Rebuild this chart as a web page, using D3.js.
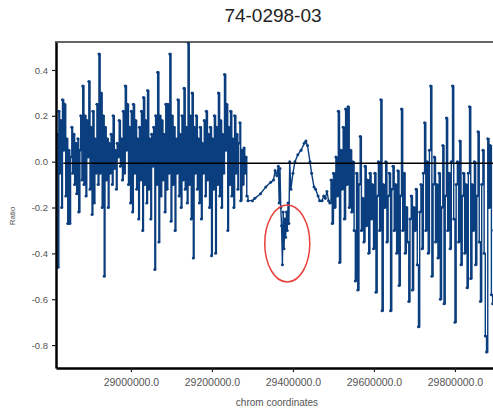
<!DOCTYPE html>
<html>
<head>
<meta charset="utf-8">
<script src="https://cdn.jsdelivr.net/npm/d3@7"></script>
<style>
  html, body { margin: 0; padding: 0; background: #fff; }
  text { font-family: "Liberation Sans", Arial, sans-serif; }
</style>
</head>
<body>
<svg id="chart" width="493" height="410"></svg>
<script>
// ---------------- DATA (positions in kb, ratio values) ----------------
const titleText = "74-0298-03";
const xLabel = "chrom coordinates";
const yLabel = "Ratio";

const xTickValues = [29000000, 29200000, 29400000, 29600000, 29800000];
const xTickLabels = ["29000000.0", "29200000.0", "29400000.0", "29600000.0", "29800000.0"];
const yTickValues = [-0.8, -0.6, -0.4, -0.2, 0.0, 0.2, 0.4];
const yTickLabels = ["-0.8", "-0.6", "-0.4", "-0.2", "0.0", "0.2", "0.4"];

// dense segment 1
const posA = [28818,28820,28822,28824,28827,28829,28831,28834,28836,28839,28841,28844,28846,28849,28851,28854,28856,28859,28861,28864,
28866,28869,28871,28874,28876,28879,28881,28884,28886,28889,28891,28894,28896,28899,28901,28904,28906,28909,28911,28914,
28916,28919,28921,28924,28926,28929,28931,28934,28936,28939,28941,28944,28946,28949,28951,28954,28956,28959,28961,28964,
28966,28969,28971,28974,28976,28979,28981,28984,28986,28989,28991,28994,28996,28999,29001,29004,29006,29009,29011,29014,
29016,29019,29021,29024,29026,29029,29031,29034,29036,29039,29041,29044,29046,29049,29051,29054,29056,29059,29061,29064,
29066,29069,29071,29074,29076,29079,29081,29084,29086,29089,29091,29094,29096,29099,29101,29104,29106,29109,29111,29114,
29116,29119,29121,29124,29126,29129,29131,29134,29136,29139,29141,29144,29146,29149,29151,29154,29156,29159,29161,29164,
29166,29169,29171,29174,29176,29179,29181,29184,29186,29189,29191,29194,29196,29199,29201,29204,29206,29209,29211,29214,
29216,29219,29221,29224,29226,29229,29231,29234,29236,29239,29241,29244,29246,29249,29251,29254,29256,29259,29261,29264,
29266,29269,29271,29274,29276,29279,29281,29284,29286,29289];
const valA = [0.12,-0.46,0.22,-0.05,0.18,-0.20,0.27,0.05,0.25,-0.15,0.10,-0.27,0.05,-0.27,0.02,0.15,-0.05,0.12,-0.10,0.08,
-0.14,0.10,-0.22,0.05,0.20,-0.08,0.33,-0.10,0.20,-0.15,0.18,0.02,0.35,-0.12,0.15,-0.23,0.22,-0.18,0.10,-0.05,
0.25,-0.10,0.47,-0.05,0.30,-0.20,0.20,-0.50,0.15,-0.08,0.10,-0.20,0.08,-0.05,0.12,-0.10,0.20,-0.03,0.05,-0.12,
0.08,0.02,0.18,-0.02,0.10,-0.08,0.22,-0.05,0.33,0.05,0.25,-0.10,0.15,-0.18,0.22,-0.22,0.25,-0.05,0.18,-0.12,
0.10,-0.25,0.15,-0.08,0.22,-0.30,0.28,-0.10,0.18,-0.18,0.31,-0.12,0.10,-0.25,0.12,-0.02,0.15,-0.47,0.20,-0.10,
0.39,-0.35,0.20,-0.15,0.18,-0.08,0.12,-0.22,0.25,-0.12,0.25,-0.05,0.47,-0.26,0.20,-0.10,0.15,-0.30,0.10,-0.05,
0.27,-0.15,0.12,-0.20,0.20,-0.08,0.32,-0.12,0.15,-0.18,0.52,-0.10,0.20,-0.25,0.30,-0.42,0.15,-0.05,0.20,-0.12,
0.10,-0.18,0.15,-0.25,0.08,-0.05,0.18,-0.15,0.22,-0.08,0.12,-0.20,0.15,-0.41,0.10,-0.12,0.20,-0.40,0.15,-0.10,
0.30,-0.15,0.18,-0.20,0.12,-0.05,0.38,0.05,0.25,-0.30,0.15,-0.10,0.22,-0.15,0.10,-0.20,0.20,-0.05,0.12,-0.12,
0.08,0.17,-0.17,0.05,-0.10,0.06,-0.05,0.02,-0.15,-0.17];

// sparse middle segment (incl. circled dip)
const posB = [29300,29306,29320,29333,29345,29352,29356,29360,29364,29366,29368,29370,29372,29374,29376,29378,29380,29382,29384,
29386,29388,29390,29392,29395,29400,29405,29412,29420,29428,29432,29436,29442,29446,29452,29456,29462,29466,29472,29476,29480,29484,29488];
const valB = [-0.17,-0.16,-0.14,-0.11,-0.09,-0.08,-0.04,-0.06,-0.02,-0.18,-0.03,-0.20,-0.28,-0.45,-0.22,-0.38,-0.25,-0.33,-0.22,
-0.30,-0.18,-0.27,0.00,-0.12,-0.05,0.00,0.03,0.05,0.08,0.09,0.07,0.00,-0.05,-0.11,-0.12,-0.15,-0.17,-0.17,-0.15,-0.16,-0.13,-0.17];

// dense segment 2
const posC = [29491,29494,29497,29500,29503,29506,29509,29512,29515,29518,29521,29524,29527,29530,29533,29536,29539,29542,29545,29548,
29551,29554,29557,29560,29563,29566,29569,29572,29575,29578,29581,29584,29587,29590,29593,29596,29599,29602,29605,29608,
29611,29614,29617,29620,29623,29626,29629,29632,29635,29638,29641,29644,29647,29650,29653,29656,29659,29662,29665,29668,
29671,29674,29677,29680,29683,29686,29689,29692,29695,29698,29701,29704,29707,29710,29713,29716,29719,29722,29725,29728,
29731,29734,29737,29740,29743,29746,29749,29752,29755,29758,29761,29764,29767,29770,29773,29776,29779,29782,29785,29788,
29791,29794,29797,29800,29803,29806,29809,29812,29815,29818,29821,29824,29827,29830,29833,29836,29839,29842,29845,29848,
29851,29854,29857,29860,29863,29866,29869,29872,29875,29878,29881,29884,29887,29890,29893,29896,29899];
const valC = [-0.18,-0.08,-0.27,-0.05,-0.20,0.02,-0.15,0.22,-0.44,0.05,-0.12,0.15,-0.25,0.23,-0.10,0.24,-0.20,0.05,-0.22,0.00,
-0.30,-0.52,-0.05,-0.56,-0.10,0.11,-0.30,-0.16,-0.35,-0.02,-0.28,-0.08,-0.40,-0.05,-0.25,-0.10,-0.38,-0.05,-0.57,-0.15,
0.00,-0.30,0.27,-0.65,-0.10,-0.20,0.00,-0.35,-0.15,-0.05,-0.65,-0.12,-0.02,-0.30,-0.10,-0.40,-0.04,-0.54,-0.15,0.23,
-0.30,-0.05,-0.40,-0.20,-0.35,-0.61,-0.25,-0.15,-0.56,-0.20,-0.30,-0.12,-0.45,-0.72,-0.22,-0.10,-0.38,-0.05,0.17,-0.30,
0.00,-0.40,0.05,0.33,-0.50,-0.10,0.02,-0.35,-0.10,-0.42,-0.05,-0.60,-0.20,0.07,-0.62,-0.15,0.19,-0.30,-0.05,-0.38,
0.00,0.33,-0.25,-0.70,-0.10,0.00,-0.35,0.09,-0.45,-0.15,-0.05,-0.40,-0.10,-0.55,-0.05,0.24,-0.51,-0.10,-0.30,0.00,
-0.45,-0.15,0.13,-0.35,-0.61,-0.10,0.05,-0.40,-0.76,-0.83,0.10,-0.20,0.07,-0.58,-0.62,-0.30,-0.55];

// reference line and the highlighted region (ellipse: center kb, center ratio, half-width kb, half-height ratio)
const zeroLine = { startKb: 28833, endKb: 29920, value: 0.0 };
const highlight = { cx: 29386, cy: -0.357, rx: 55.6, ry: 0.168 };

// ---------------- CHART ----------------
const svg = d3.select("#chart");
const lineColor = "#0b3e7e";

const x = d3.scaleLinear().domain([28815000, 29900000]).range([56, 56 + 1085000 / 2469]);
const y = d3.scaleLinear().domain([-0.9, 0.522]).range([368, 42]);

const toPts = (ps, vs) => ps.map((p, i) => ({ pos: p * 1000, v: vs[i] }));
const ptsA = toPts(posA, valA);
const ptsB = toPts(posB, valB);
const ptsC = toPts(posC, valC);
const points = ptsA.concat(ptsB, ptsC);

svg.append("defs").append("clipPath").attr("id", "clip")
  .append("rect").attr("x", 56).attr("y", 42).attr("width", 460).attr("height", 326);

// title
svg.append("text").attr("x", 273).attr("y", 22).attr("text-anchor", "middle")
  .attr("font-size", 19).attr("fill", "#222").text(titleText);

const plot = svg.append("g").attr("clip-path", "url(#clip)");

const stepLine = d3.line().curve(d3.curveStepAfter).x(d => x(d.pos)).y(d => y(d.v));
const linLine = d3.line().x(d => x(d.pos)).y(d => y(d.v));

[ptsA, ptsC].forEach(seg => {
  plot.append("path").datum(seg)
    .attr("fill", "none").attr("stroke", lineColor).attr("stroke-width", 1.4)
    .attr("d", stepLine);
});
plot.append("path").datum([ptsA[ptsA.length - 1]].concat(ptsB, [ptsC[0]]))
  .attr("fill", "none").attr("stroke", lineColor).attr("stroke-width", 1.4)
  .attr("d", linLine);

plot.selectAll("circle.pt").data(points).enter().append("circle")
  .attr("class", "pt")
  .attr("cx", d => x(d.pos)).attr("cy", d => y(d.v)).attr("r", 1.5)
  .attr("fill", lineColor);

// zero line
plot.append("line")
  .attr("x1", x(zeroLine.startKb * 1000)).attr("x2", x(zeroLine.endKb * 1000))
  .attr("y1", y(zeroLine.value) + 1.5).attr("y2", y(zeroLine.value) + 1.5)
  .attr("stroke", "#000").attr("stroke-width", 1.5);

// highlight ellipse
plot.append("ellipse")
  .attr("cx", x(highlight.cx * 1000)).attr("cy", y(highlight.cy))
  .attr("rx", x(highlight.cx * 1000 + highlight.rx * 1000) - x(highlight.cx * 1000))
  .attr("ry", y(highlight.cy - highlight.ry) - y(highlight.cy))
  .attr("fill", "none").attr("stroke", "#e8403a").attr("stroke-width", 1.5);

// axes
const xAxis = d3.axisBottom(x).tickValues(xTickValues)
  .tickFormat((d, i) => xTickLabels[i]).tickSize(4).tickSizeOuter(0);
const gx = svg.append("g").attr("transform", "translate(0,368)").call(xAxis);
gx.select(".domain").attr("stroke", "#000").attr("stroke-width", 2.5);
gx.selectAll(".tick line").attr("stroke", "#222").attr("stroke-width", 1.2);
gx.selectAll(".tick text").attr("font-size", 10.5).attr("fill", "#555").attr("dy", "1.0em");

const yAxis = d3.axisLeft(y).tickValues(yTickValues)
  .tickFormat((d, i) => yTickLabels[i]).tickSize(4).tickSizeOuter(0);
const gy = svg.append("g").attr("transform", "translate(56,0)").call(yAxis);
gy.select(".domain").attr("stroke", "#000").attr("stroke-width", 2.5);
gy.selectAll(".tick line").attr("stroke", "#222").attr("stroke-width", 1.2);
gy.selectAll(".tick text").attr("font-size", 9.5).attr("fill", "#555").attr("x", -8);

// top border
svg.append("line").attr("x1", 55).attr("x2", 493).attr("y1", 42).attr("y2", 42)
  .attr("stroke", "#333").attr("stroke-width", 1.5);

// axis labels
svg.append("text").attr("x", 277).attr("y", 406).attr("text-anchor", "middle")
  .attr("font-size", 10).attr("fill", "#555").text(xLabel);
svg.append("text").attr("transform", "translate(15,216) rotate(-90)")
  .attr("text-anchor", "middle").attr("font-size", 8).attr("fill", "#555").text(yLabel);
</script>
</body>
</html>
